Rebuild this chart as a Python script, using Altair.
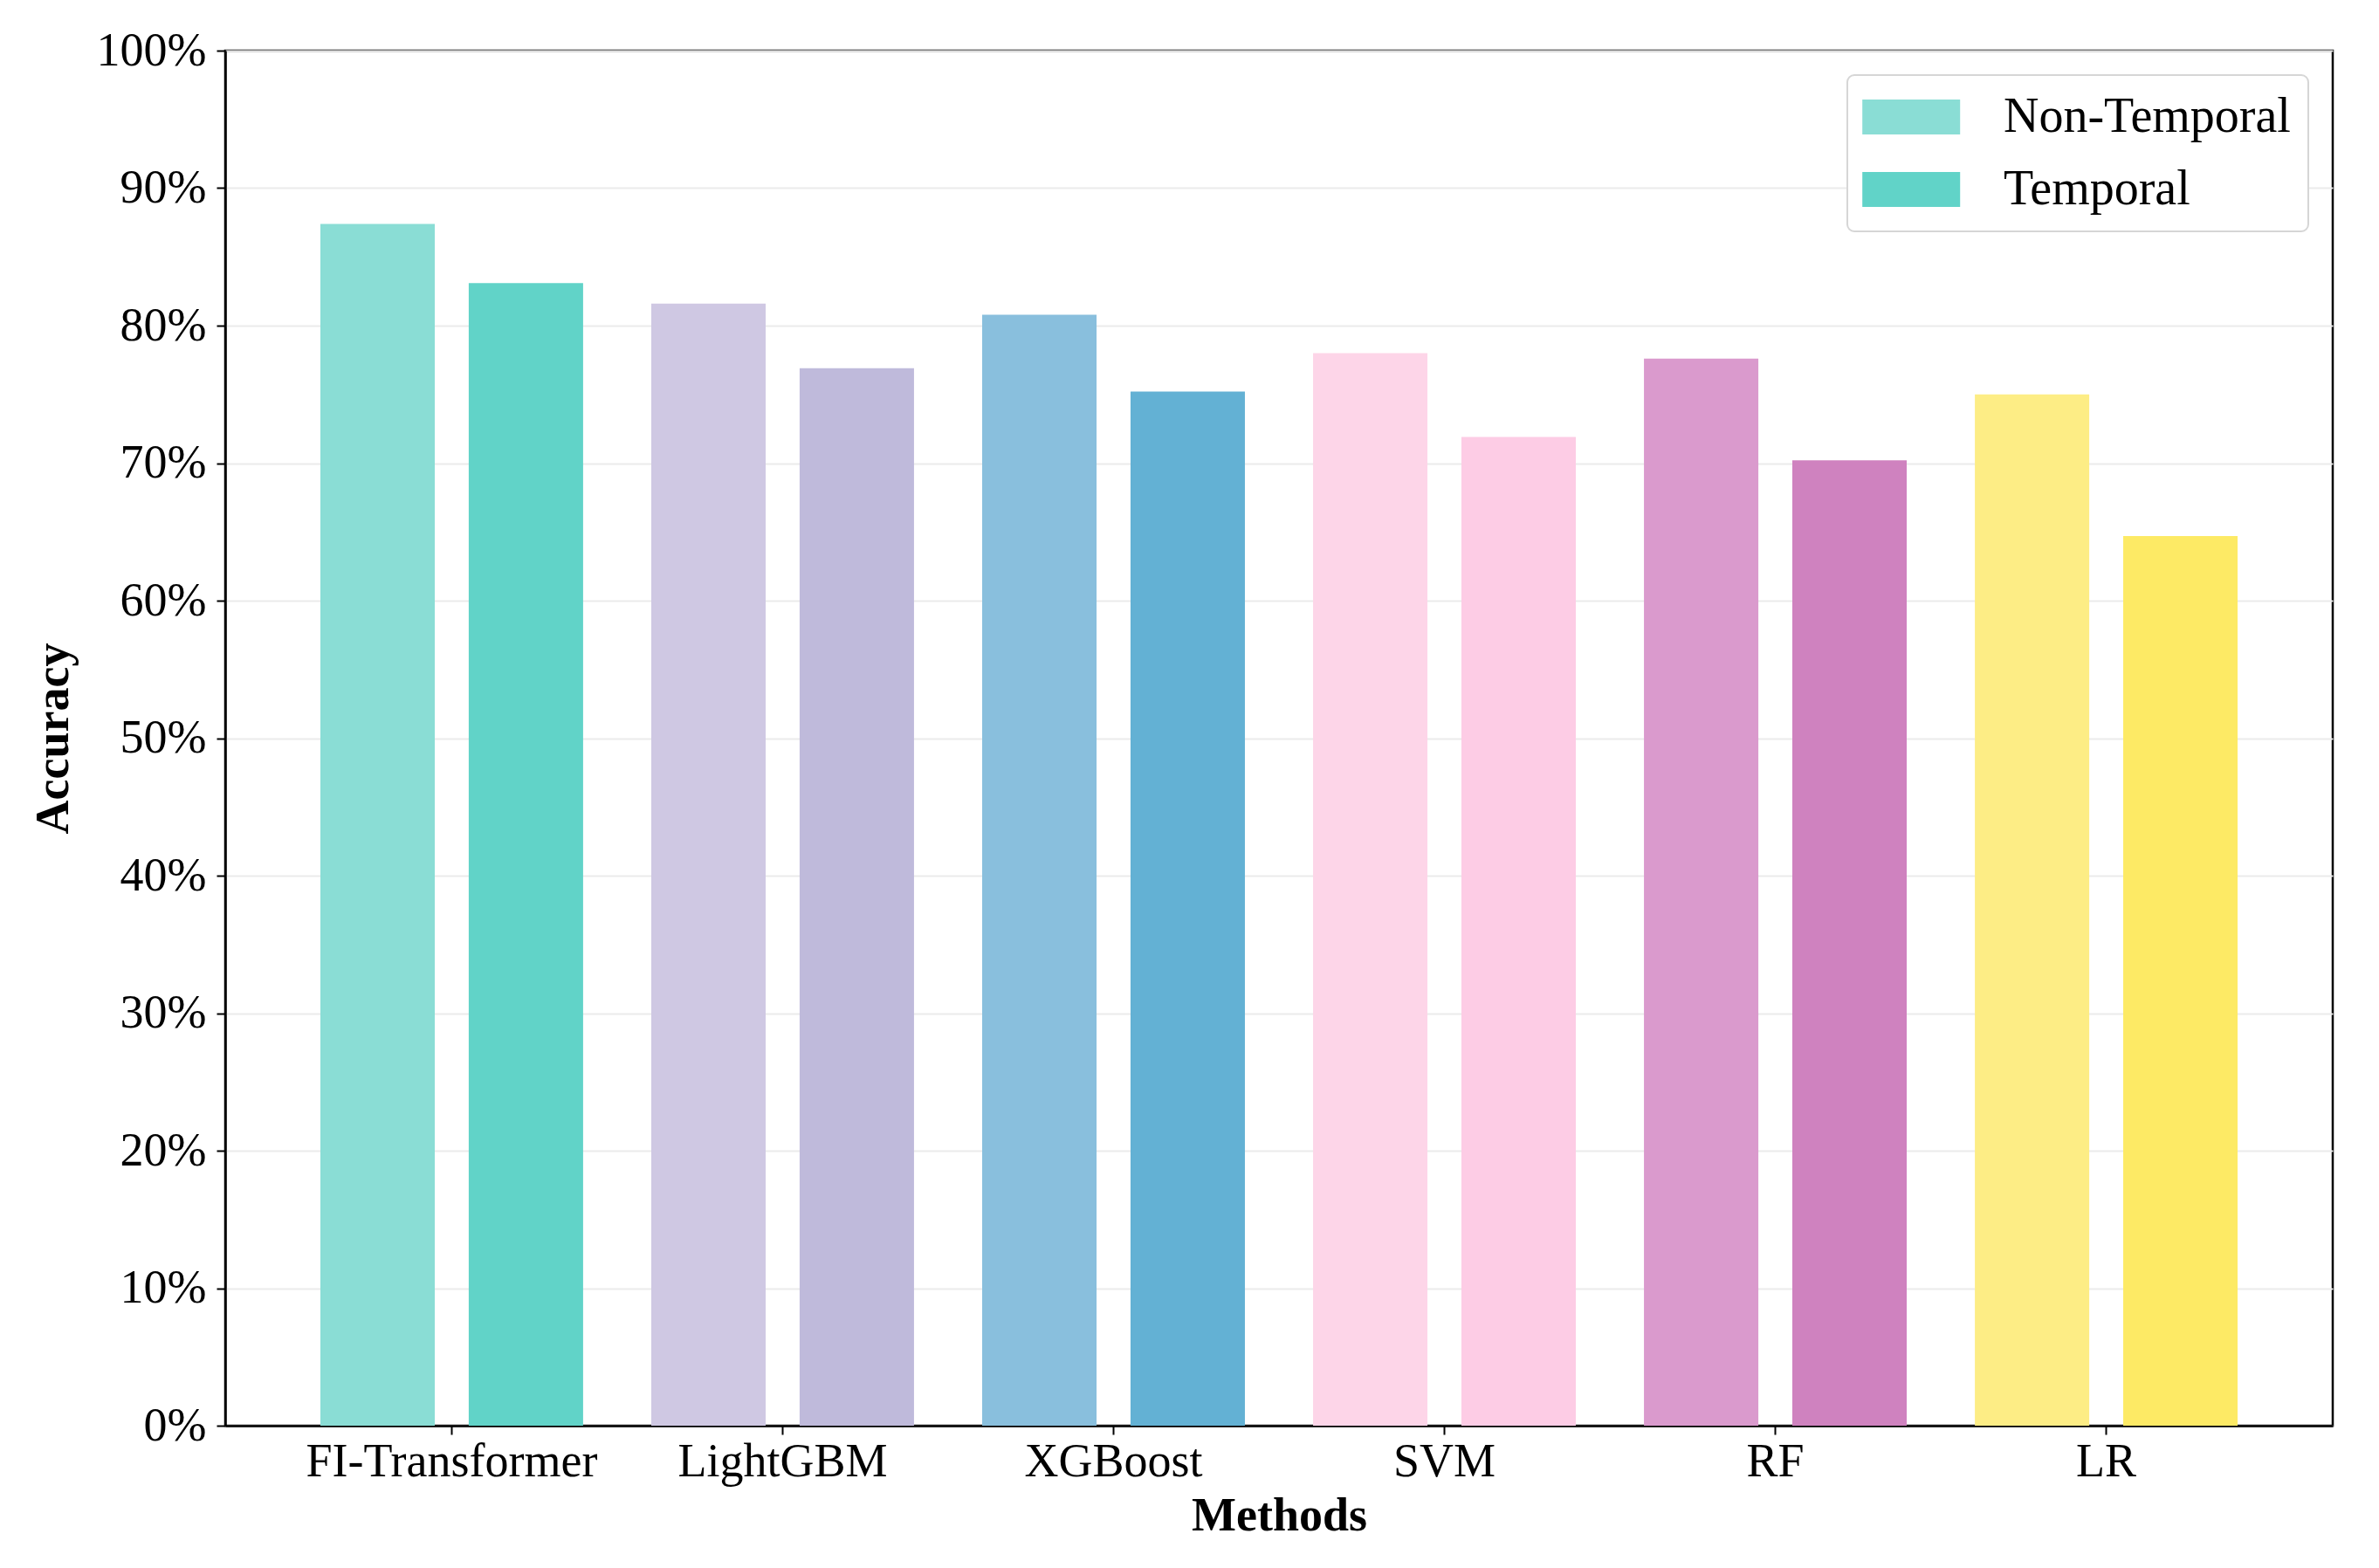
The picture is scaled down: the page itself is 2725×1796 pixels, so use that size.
import altair as alt
import pandas as pd

methods = ["FI-Transformer", "LightGBM", "XGBoost", "SVM", "RF", "LR"]
series_names = ["Non-Temporal", "Temporal"]
non_temporal = [87.4, 81.6, 80.8, 78.0, 77.6, 75.0]
temporal = [83.1, 76.9, 75.2, 71.9, 70.2, 64.7]
colors_nt = ["#8ADDD5", "#CFC8E3", "#89BFDD", "#FDD5E8", "#DA9ACD", "#FDED85"]
colors_t = ["#61D3C8", "#BFBADB", "#63B1D4", "#FDCCE5", "#CF82BF", "#FDEA65"]
y_ticks = [i / 10 for i in range(11)]

rows = []
domain = []
rng = []
for m, nt, t, cnt, ct in zip(methods, non_temporal, temporal, colors_nt, colors_t):
    for s, v, c in ((series_names[0], nt, cnt), (series_names[1], t, ct)):
        key = f"{m}|{s}"
        rows.append({"Method": m, "Series": s, "Accuracy": v / 100, "key": key})
        domain.append(key)
        rng.append(c)
df = pd.DataFrame(rows)

FONT = "Liberation Serif"

chart = alt.Chart(df).mark_bar().encode(
    x=alt.X("Method:N", sort=methods,
            scale=alt.Scale(paddingInner=0.206, paddingOuter=0.2875),
            axis=alt.Axis(title="Methods", labelAngle=0, tickSize=10, labelPadding=4,
                          titlePadding=8, labelLimit=0)),
    xOffset=alt.XOffset("Series:N", sort=series_names,
                        scale=alt.Scale(paddingInner=0.229, paddingOuter=0)),
    y=alt.Y("Accuracy:Q", scale=alt.Scale(domain=[0, 1], nice=False),
            axis=alt.Axis(title="Accuracy", format=".0%", values=y_ticks,
                          tickSize=10, labelPadding=12, titlePadding=22, grid=True,
                          labelLimit=0)),
    color=alt.Color("key:N", scale=alt.Scale(domain=domain, range=rng),
                    legend=alt.Legend(
                        title=None,
                        values=[f"{methods[0]}|{series_names[0]}", f"{methods[0]}|{series_names[1]}"],
                        labelExpr="split(datum.label, '|')[1]",
                        orient="top-right", offset=28,
                        symbolType="M-1.1,-0.714H2.9V0.714H-1.1Z", symbolSize=3136,
                        symbolStrokeWidth=0,
                        labelFontSize=56, labelFont=FONT, labelColor="black",
                        labelOffset=103, rowPadding=27, labelLimit=0,
                        padding=20, strokeColor="#d6d6d6", fillColor="white",
                        cornerRadius=8,
                    )),
).properties(
    width=2414, height=1575,
    padding={"left": 26, "top": 23, "right": 40, "bottom": 10},
).configure_view(
    stroke="black", strokeWidth=2.5,
).configure_axis(
    labelFont=FONT, titleFont=FONT, labelFontSize=54, titleFontSize=54,
    labelColor="black", titleColor="black", titleFontWeight="bold",
    domainColor="black", domainWidth=2.5, tickColor="black", tickWidth=2,
    gridColor="#ebebeb", gridWidth=2,
).configure_axisX(grid=False).configure_legend(
    strokeWidth=2,
)

chart.save("out.html", embed_options={"renderer": "svg", "actions": False})
